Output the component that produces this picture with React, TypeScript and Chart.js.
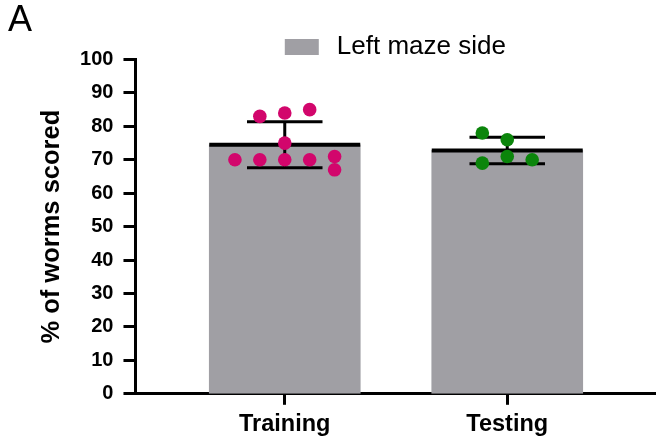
import React, { useEffect, useRef } from 'react';
import { Chart, registerables } from 'chart.js';

Chart.register(...registerables);

// ---- data ----
const CATEGORIES = ['Training', 'Testing'];
const TRAINING_VALUES = [84, 83, 85, 75, 70, 70, 70, 70, 71, 67];
const TESTING_VALUES = [76, 78, 71, 69, 70];
const SERIES_LABEL = 'Left maze side';
const Y_TICKS = [0, 10, 20, 30, 40, 50, 60, 70, 80, 90, 100];
const Y_TITLE = '% of worms scored';
const PANEL_LABEL = 'A';

const GROUPS = [TRAINING_VALUES, TESTING_VALUES];
const POINT_COLORS = ['#d2066c', '#0b850b'];
const BAR_COLOR = '#a09fa4';
const FONT = "'Liberation Sans', Arial, Helvetica, sans-serif";

const mean = (a: number[]) => a.reduce((s, v) => s + v, 0) / a.length;
const sd = (a: number[]) => {
  const m = mean(a);
  return Math.sqrt(a.reduce((s, v) => s + (v - m) * (v - m), 0) / (a.length - 1));
};

// simple beeswarm: put each point in the closest free lane
function swarmLanes(values: number[], minGap: number): number[] {
  const order = [0, -1, 1, -2, 2, -3, 3, -4, 4];
  const placed: { lane: number; v: number }[] = [];
  return values.map((v) => {
    for (const lane of order) {
      if (!placed.some((p) => p.lane === lane && Math.abs(p.v - v) < minGap)) {
        placed.push({ lane, v });
        return lane;
      }
    }
    return 0;
  });
}

const LANE = 0.112;
const MIN_GAP = 3.9;

const errorBarPlugin = {
  id: 'meanSd',
  afterDatasetDraw(chart: any, args: any) {
    if (args.meta.type !== 'bar') return;
    const ctx = chart.ctx;
    const xs = chart.scales.x;
    const ys = chart.scales.y;
    ctx.save();
    ctx.strokeStyle = '#000';
    GROUPS.forEach((vals, i) => {
      const el = args.meta.data[i];
      const w = el.width;
      const cx = xs.getPixelForValue(i);
      const m = mean(vals);
      const s = sd(vals);
      const yM = ys.getPixelForValue(m);
      const yT = ys.getPixelForValue(m + s);
      const yB = ys.getPixelForValue(m - s);
      ctx.lineWidth = 4;
      ctx.beginPath();
      ctx.moveTo(cx - w / 2, yM);
      ctx.lineTo(cx + w / 2, yM);
      ctx.stroke();
      ctx.lineWidth = 3;
      ctx.beginPath();
      ctx.moveTo(cx, yT);
      ctx.lineTo(cx, yB);
      ctx.moveTo(cx - w / 4, yT);
      ctx.lineTo(cx + w / 4, yT);
      ctx.moveTo(cx - w / 4, yB);
      ctx.lineTo(cx + w / 4, yB);
      ctx.stroke();
    });
    ctx.restore();
  },
};

const legendPlugin = {
  id: 'customLegend',
  afterDraw(chart: any) {
    const ctx = chart.ctx;
    const area = chart.chartArea;
    const label = chart.data.datasets.find((d: any) => d.type === 'bar')?.label ?? '';
    ctx.save();
    ctx.font = `26px ${FONT}`;
    const tw = ctx.measureText(label).width;
    const boxW = 34, boxH = 16, gap = 18;
    const total = boxW + gap + tw;
    const x0 = (area.left + area.right) / 2 - total / 2;
    const yc = 47;
    ctx.fillStyle = BAR_COLOR;
    ctx.fillRect(x0, yc - boxH / 2, boxW, boxH);
    ctx.fillStyle = '#000';
    ctx.textBaseline = 'middle';
    ctx.textAlign = 'left';
    ctx.fillText(label, x0 + boxW + gap, yc);
    // panel label
    ctx.font = `36px ${FONT}`;
    ctx.textBaseline = 'alphabetic';
    ctx.fillText(PANEL_LABEL, 8, 31);
    ctx.restore();
  },
};

export default function App() {
  const ref = useRef<HTMLCanvasElement>(null);
  useEffect(() => {
    if (!ref.current) return;
    const scatterSets = GROUPS.map((vals, gi) => {
      const lanes = swarmLanes(vals, MIN_GAP);
      return {
        type: 'scatter' as const,
        label: CATEGORIES[gi],
        data: vals.map((v, k) => ({ x: gi + lanes[k] * LANE, y: v })),
        backgroundColor: POINT_COLORS[gi],
        borderWidth: 0,
        pointRadius: 6.8,
        order: 1,
      };
    });
    const chart = new Chart(ref.current, {
      type: 'bar',
      data: {
        datasets: [
          ...scatterSets,
          {
            type: 'bar' as const,
            label: SERIES_LABEL,
            data: GROUPS.map((vals, i) => ({ x: i, y: mean(vals) })),
            backgroundColor: BAR_COLOR,
            borderWidth: 0,
            barThickness: 151,
            order: 2,
          },
        ] as any,
      },
      options: {
        responsive: false,
        animation: false,
        layout: { padding: { left: 32.5, right: 0, top: 59.5, bottom: -5 } },
        plugins: { legend: { display: false }, tooltip: { enabled: false } },
        scales: {
          x: {
            type: 'linear',
            offset: false,
            min: -0.671,
            max: 1.665,
            afterBuildTicks: (axis: any) => {
              axis.ticks = CATEGORIES.map((_, i) => ({ value: i }));
            },
            ticks: {
              callback: (v: any) => CATEGORIES[v] ?? '',
              font: { family: FONT, size: 23.5, weight: 'bold' },
              color: '#000',
              padding: 6,
              autoSkip: false,
              maxRotation: 0,
            },
            grid: { offset: false, drawOnChartArea: false, drawTicks: true, tickLength: 11, tickWidth: 3, tickColor: '#000' },
            border: { display: true, color: '#000', width: 3 },
          },
          y: {
            type: 'linear',
            min: 0,
            max: 100,
            afterBuildTicks: (axis: any) => {
              axis.ticks = Y_TICKS.map((v) => ({ value: v }));
            },
            ticks: {
              font: { family: FONT, size: 20, weight: 'bold' },
              color: '#000',
              padding: 10,
            },
            grid: { drawOnChartArea: false, drawTicks: true, tickLength: 12, tickWidth: 3, tickColor: '#000' },
            border: { display: true, color: '#000', width: 3 },
            title: {
              display: true,
              text: Y_TITLE,
              font: { family: FONT, size: 25.5, weight: 'bold' },
              color: '#000',
              padding: { top: 4, bottom: 3 },
            },
          },
        },
      } as any,
      plugins: [errorBarPlugin, legendPlugin],
    });
    return () => chart.destroy();
  }, []);
  return (
    <div style={{ position: 'fixed', left: 0, top: 0, width: 662, height: 440, background: '#fff' }}>
      <canvas ref={ref} width={662} height={440} style={{ display: 'block' }} />
    </div>
  );
}
